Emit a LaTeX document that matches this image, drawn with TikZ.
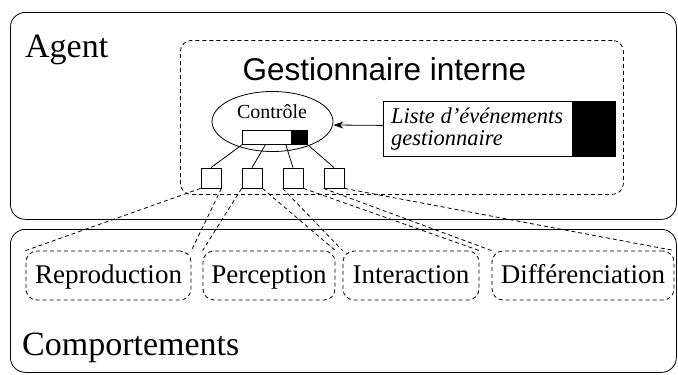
\documentclass[tikz,border=0pt]{standalone}
\usepackage{fontspec}
\setmainfont{Liberation Serif}
\newfontfamily\titlefont{Liberation Sans}
\usetikzlibrary{shapes.geometric,arrows.meta,calc}
\begin{document}
\begin{tikzpicture}[x=1pt,y=-1pt,
  lw/.style={line width=0.8pt},
  outerbox/.style={draw, lw, rounded corners=15pt, inner sep=0pt, anchor=north west},
  dashbox/.style={draw, lw, dash pattern=on 4pt off 3pt, rounded corners=11pt, inner sep=0pt},
  module/.style={dashbox, minimum height=49pt, font=\fontsize{27}{27}\selectfont, text height=20pt, text depth=5pt},
  sq/.style={draw, lw, minimum width=20pt, minimum height=20pt, inner sep=0pt},
  link/.style={lw},
  dlink/.style={lw, dash pattern=on 4pt off 3pt},
  big/.style={font=\fontsize{34}{40}\selectfont, inner sep=0pt, anchor=base west},
]
\useasboundingbox (0,0) rectangle (678,375);
\node[outerbox, minimum width=666pt, minimum height=207pt] (agent) at (10,12) {};
\node[outerbox, minimum width=666pt, minimum height=143pt] (comp) at (10,229) {};
\node[big] (agentlbl) at (25,57) {Agent};
\node[big] (complbl) at (22,355) {Comportements};
\node[dashbox, anchor=north west, minimum width=443pt, minimum height=154pt] (gest) at (180,40) {};
\node[font=\titlefont\fontsize{31.5}{36}\selectfont, inner sep=0pt, anchor=base] (gestlbl) at (384.5,80) {Gestionnaire interne};
\node[draw, lw, ellipse, minimum width=121pt, minimum height=60pt, inner sep=0pt] (ctrl) at (272.5,121.5) {};
\node[font=\fontsize{20}{24}\selectfont, inner sep=0pt, anchor=base] (ctrllbl) at (272,118) {Contrôle};
\node[draw, lw, anchor=north west, minimum width=49pt, minimum height=14pt, inner sep=0pt] (barw) at (242,130) {};
\node[draw, lw, fill=black, anchor=north west, minimum width=16pt, minimum height=14pt, inner sep=0pt] (barb) at (291,130) {};
\node[draw, lw, anchor=north west, minimum width=232pt, minimum height=55pt, inner sep=0pt] (liste) at (383,101) {};
\node[draw, lw, fill=black, anchor=north east, minimum width=42pt, minimum height=55pt, inner sep=0pt] (listeblk) at (615,101) {};
\node[anchor=base west, inner sep=0pt, font=\itshape\fontsize{22.5}{22}\selectfont] (listelbl) at (391,123) {\begin{tabular}[t]{@{}l@{}}Liste d’événements\\gestionnaire\end{tabular}};
\draw[lw, -{Stealth[length=10pt,width=7pt]}] ($(liste.west)+(0,-3.5)$) -- ($(ctrl.east)+(0,3.5)$);
\node[sq] (s1) at (211,178) {};
\node[sq] (s2) at (252,178) {};
\node[sq] (s3) at (293,178) {};
\node[sq] (s4) at (334,178) {};
\draw[link] (barw.south west) -- (s1.north);
\draw[link] ($(barw.south west)!0.47!(barw.south east)$) -- (s2.north);
\draw[link] ($(barw.south west)!0.88!(barw.south east)$) -- (s3.north);
\draw[link] (barb.south east) -- (s4.north);
\node[module, minimum width=165pt] (m1) at (108.5,275.5) {Reproduction};
\node[module, minimum width=132pt] (m2) at (269,275.5) {Perception};
\node[module, minimum width=136pt] (m3) at (411,275.5) {Interaction};
\node[module, minimum width=182pt] (m4) at (583,275.5) {Différenciation};
\foreach \i in {1,2,3,4}{
  \draw[dlink] (s\i.south west) -- (m\i.north west);
  \draw[dlink] (s\i.south east) -- (m\i.north east);
}
\end{tikzpicture}
\end{document}
